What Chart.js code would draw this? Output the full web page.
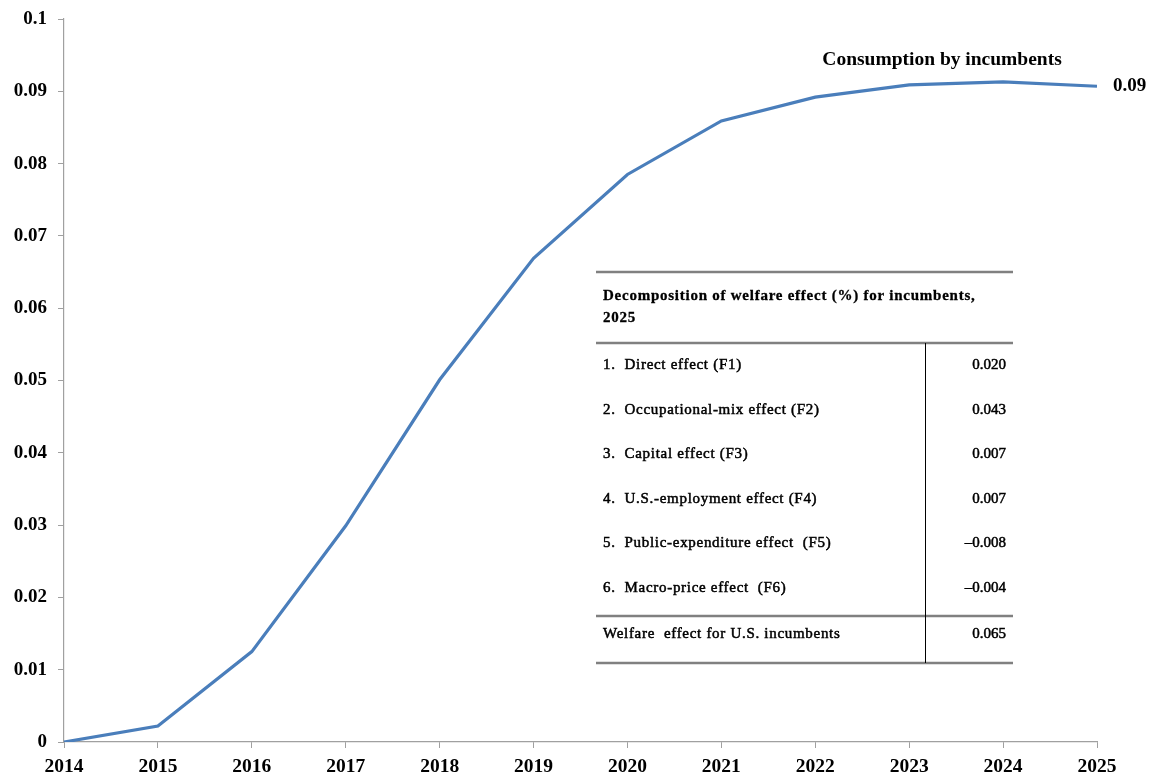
<!DOCTYPE html>
<html>
<head>
<meta charset="utf-8">
<script src="https://cdn.jsdelivr.net/npm/chart.js@4"></script>
<style>
  html, body { margin: 0; padding: 0; background: #fff; }
  #wrap { width: 1157px; height: 778px; }
</style>
</head>
<body>
<div id="wrap"><canvas id="chart" width="1157" height="778"></canvas></div>
<script>
/* ── Data ─────────────────────────────────────────────── */
const years       = ["2014","2015","2016","2017","2018","2019","2020","2021","2022","2023","2024","2025"];
const consumption = [0, 0.0022, 0.0125, 0.0299, 0.0501, 0.0669, 0.0785, 0.0859, 0.0892, 0.0909, 0.0913, 0.0907];
const seriesLabel = "Consumption by incumbents";
const endLabel    = "0.09";

const tableTitle  = ["Decomposition of welfare effect (%) for incumbents,", "2025"];
const rowLabels   = ["1.  Direct effect (F1)", "2.  Occupational-mix effect (F2)", "3.  Capital effect (F3)",
                     "4.  U.S.-employment effect (F4)", "5.  Public-expenditure effect  (F5)", "6.  Macro-price effect  (F6)"];
const rowValues   = ["0.020", "0.043", "0.007", "0.007", "\u20130.008", "\u20130.004"];
const totalLabel  = "Welfare  effect for U.S. incumbents";
const totalValue  = "0.065";

const SERIF = "'Liberation Serif', 'Times New Roman', serif";

/* faux-heavy text, like the scanned original */
function heavyText(ctx, txt, x, y, w) {
  ctx.fillText(txt, x, y);
  ctx.lineWidth = w;
  ctx.strokeStyle = "#000";
  ctx.strokeText(txt, x, y);
}

/* ── Annotations: series label, end label, decomposition table ── */
const overlay = {
  id: "overlay",
  afterDatasetsDraw(chart) {
    const { ctx, chartArea: ca, scales } = chart;
    const x = scales.x, y = scales.y;
    ctx.save();
    ctx.fillStyle = "#000";

    // series label + end value
    ctx.font = `bold 19.5px ${SERIF}`;
    ctx.textAlign = "center";
    ctx.textBaseline = "middle";
    ctx.fillText(seriesLabel, x.getPixelForValue(9.35), y.getPixelForValue(0.0944));
    ctx.textAlign = "left";
    ctx.font = `bold 19px ${SERIF}`;
    ctx.fillText(endLabel, ca.right + 16, y.getPixelForValue(consumption[consumption.length - 1]));

    // table
    const left = 596, right = 1013, divX = 925;
    const top = 272, headBot = 343, totTop = 616, bottom = 663;
    ctx.strokeStyle = "#808080";
    ctx.lineWidth = 2.5;
    [top, headBot, totTop, bottom].forEach(yy => {
      ctx.beginPath(); ctx.moveTo(left, yy); ctx.lineTo(right, yy); ctx.stroke();
    });
    ctx.strokeStyle = "#000";
    ctx.lineWidth = 1;
    ctx.beginPath(); ctx.moveTo(divX + 0.5, headBot); ctx.lineTo(divX + 0.5, bottom); ctx.stroke();

    ctx.letterSpacing = "0.75px";
    ctx.font = `bold 15px ${SERIF}`;
    ctx.textAlign = "left";
    heavyText(ctx, tableTitle[0], 603, 296, 0.3);
    heavyText(ctx, tableTitle[1], 603, 318, 0.3);

    ctx.font = `15px ${SERIF}`;
    rowLabels.forEach((lab, i) => {
      const yy = 365 + i * 44.6;
      ctx.letterSpacing = "0.7px";
      ctx.textAlign = "left";
      heavyText(ctx, lab, 603, yy, 0.5);
      ctx.letterSpacing = "0px";
      ctx.textAlign = "right";
      heavyText(ctx, rowValues[i], 1006, yy, 0.5);
    });
    ctx.letterSpacing = "0.7px";
    ctx.textAlign = "left";
    heavyText(ctx, totalLabel, 603, 634, 0.5);
    ctx.letterSpacing = "0px";
    ctx.textAlign = "right";
    heavyText(ctx, totalValue, 1006, 634, 0.5);
    ctx.restore();
  }
};

/* ── Chart ────────────────────────────────────────────── */
new Chart(document.getElementById("chart"), {
  type: "line",
  data: {
    labels: years,
    datasets: [{
      label: seriesLabel,
      data: consumption,
      borderColor: "#4a7ebb",
      borderWidth: 3.2,
      pointRadius: 0,
      tension: 0,
      fill: false,
    }],
  },
  options: {
    responsive: false,
    animation: false,
    layout: { padding: { top: 19, right: 60, left: 0, bottom: 0 } },
    plugins: { legend: { display: false }, tooltip: { enabled: false } },
    scales: {
      x: {
        type: "category",
        offset: false,
        grid: { drawOnChartArea: false, drawTicks: true, tickLength: 6, color: "#a0a0a0" },
        border: { color: "#a0a0a0", width: 1.2 },
        ticks: { color: "#000", font: { family: SERIF, size: 19.5, weight: "bold" }, padding: 7, maxRotation: 0, autoSkip: false },
        afterFit: s => { s.height = 36; s.paddingLeft = 0; s.paddingRight = 0; },
      },
      y: {
        min: 0, max: 0.1,
        grid: { drawOnChartArea: false, drawTicks: true, tickLength: 6, color: "#a0a0a0" },
        border: { color: "#a0a0a0", width: 1.2 },
        ticks: {
          stepSize: 0.01, color: "#000", padding: 11,
          font: { family: SERIF, size: 19, weight: "bold" },
          callback: v => String(+v.toFixed(2)),
        },
        afterFit: s => { s.width = 64; s.paddingTop = 0; s.paddingBottom = 0; },
      },
    },
  },
  plugins: [overlay],
});
</script>
</body>
</html>
